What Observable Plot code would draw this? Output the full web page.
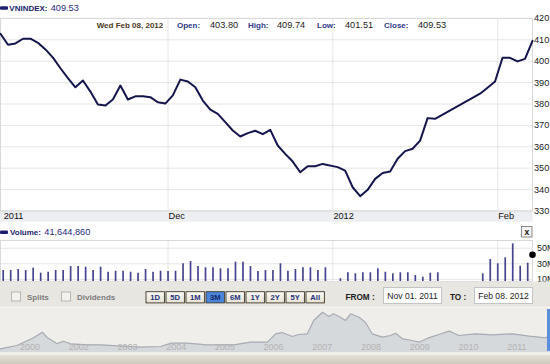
<!DOCTYPE html>
<html><head><meta charset="utf-8">
<script src="https://cdn.jsdelivr.net/npm/d3@7"></script>
<script src="https://cdn.jsdelivr.net/npm/@observablehq/plot@0.6"></script>
<style>
body{margin:0;background:#fff;}
#root{position:relative;width:550px;height:364px;overflow:hidden;background:#fff;font-family:"Liberation Sans",Arial,sans-serif;}
#root svg{position:absolute;left:0;overflow:visible;background:transparent;}
</style></head><body><div id="root"></div>
<script>
// ---- data ----
const dates = ["2011-11-01","2011-11-02","2011-11-03","2011-11-04","2011-11-07","2011-11-08","2011-11-09","2011-11-10","2011-11-11","2011-11-14","2011-11-15","2011-11-16","2011-11-17","2011-11-18","2011-11-21","2011-11-22","2011-11-23","2011-11-24","2011-11-25","2011-11-28","2011-11-29","2011-11-30",
"2011-12-01","2011-12-02","2011-12-05","2011-12-06","2011-12-07","2011-12-08","2011-12-09","2011-12-12","2011-12-13","2011-12-14","2011-12-15","2011-12-16","2011-12-19","2011-12-20","2011-12-21","2011-12-22","2011-12-23","2011-12-26","2011-12-27","2011-12-28","2011-12-29","2011-12-30",
"2012-01-03","2012-01-04","2012-01-05","2012-01-06","2012-01-09","2012-01-10","2012-01-11","2012-01-12","2012-01-13","2012-01-16","2012-01-17","2012-01-18","2012-01-19","2012-01-20","2012-01-30","2012-01-31",
"2012-02-01","2012-02-02","2012-02-03","2012-02-06","2012-02-07","2012-02-08"];
const closes = [412.8,407.7,408.3,410.5,410.5,408.6,405.5,401.7,396.7,392.1,387.8,391.0,385.8,379.8,379.3,382.1,388.6,382.1,383.6,383.6,383.2,380.8,
380.2,384.0,391.4,390.5,387.8,381.6,377.4,375.4,371.5,367.6,364.8,366.4,367.5,365.9,367.9,360.6,356.7,353.1,348.1,350.9,350.9,352.0,
350.5,348.9,341.1,336.9,339.9,345.0,347.8,348.5,354.4,358.0,359.1,362.9,373.4,373.1,384.8,387.6,
390.5,401.6,401.6,399.9,401.1,409.53];
const volumesM = [21.4,21.4,22.7,21.4,24.4,18.0,19.2,21.4,21.4,26.5,26.5,25.6,21.4,25.6,19.2,20.5,20.5,19.2,18.0,22.7,19.2,20.5,
20.1,20.5,30.0,32.9,26.5,24.9,24.9,23.6,23.6,32.1,32.1,26.5,20.1,21.4,21.4,30.0,20.5,22.7,24.9,24.9,21.4,24.9,
10.8,18.5,17.2,18.5,18.5,23.6,19.2,17.2,18.5,18.5,15.0,12.8,18.0,18.5,17.2,35.5,
30.0,37.7,55.6,26.9,30.8,41.64486];
const priceTicks = [330,340,350,360,370,380,390,400,410,420];
const volumeTicks = [10,30,50];
const monthTickDates = ["2011-11-01","2011-12-01","2012-01-01","2012-02-01"];
const monthTickLabels = ["2011","Dec","2012","Feb"];
const navYears = [2000.60,2000.94,2001.28,2001.46,2001.56,2001.76,2001.89,2002.04,2002.38,2002.65,2003.00,2003.47,2003.89,2004.09,2004.43,2004.84,2005.39,2005.73,2006.08,2006.25,2006.38,2006.59,2006.72,2006.90,2007.03,2007.21,2007.34,2007.44,2007.58,2007.68,2007.79,2007.96,2008.09,2008.23,2008.44,2008.61,2008.71,2008.85,2009.05,2009.19,2009.39,2009.60,2009.81,2010.01,2010.35,2010.70,2011.11,2011.45,2011.79,2011.89];
const navValues = [107,203,427,590,436,253,328,253,224,224,195,154,174,270,270,224,224,300,300,543,580,465,523,543,930,1171,1046,1125,1026,930,1125,1026,880,543,445,494,561,398,349,300,427,523,620,494,543,514,543,474,427,494];
const navTickYears = [2001,2002,2003,2004,2005,2006,2007,2008,2009,2010,2011];
const navTickLabels = ["2000","2002","2003","2004","2005","2006","2007","2008","2009","2010","2011"];
const rangeButtons = ["1D","5D","1M","3M","6M","1Y","2Y","5Y","All"];
const activeButton = "3M";

// ---- helpers ----
const startDay = new Date(Date.UTC(2011,10,1));
function tradingIndex(s){
  const d = new Date(s+"T00:00:00Z"); let n = 0;
  for (let t = new Date(startDay); t < d; t.setUTCDate(t.getUTCDate()+1)) { const w = t.getUTCDay(); if (w!==0 && w!==6) n++; }
  return n;
}
const rows = dates.map((s,i)=>({i:tradingIndex(s), close:closes[i], vol:volumesM[i]}));
const monthIdx = monthTickDates.map(tradingIndex);
const xDomain = [0, tradingIndex(dates[dates.length-1])];
const FONT = "'Liberation Sans', Arial, sans-serif";
const root = document.getElementById("root");
const GRID = "#e6e6e6";

// ---- background layer ----
const bg = d3.create("svg").attr("width",550).attr("height",364).style("top","0px");
bg.append("rect").attr("x",0).attr("y",210.5).attr("width",532.5).attr("height",11.2).attr("fill","#eceef2");
bg.append("rect").attr("x",0).attr("y",307).attr("width",550).attr("height",48).attr("fill","#efeeea");
const grad = bg.append("defs").append("linearGradient").attr("id","sb").attr("x1",0).attr("x2",0).attr("y1",0).attr("y2",1);
grad.append("stop").attr("offset",0).attr("stop-color","#e3e0d8");
grad.append("stop").attr("offset",1).attr("stop-color","#cfcabe");
bg.append("rect").attr("x",0).attr("y",355).attr("width",550).attr("height",9).attr("fill","url(#sb)");
root.appendChild(bg.node());

// ---- price chart ----
const price = Plot.plot({
  width:550, height:222, marginTop:17.9, marginBottom:11.5, marginLeft:0, marginRight:18,
  style:{fontFamily:FONT, fontSize:"9.2px", background:"transparent", overflow:"visible"},
  x:{domain:xDomain}, y:{domain:[330,420]},
  marks:[
    Plot.gridY(priceTicks,{stroke:GRID, strokeOpacity:1}),
    Plot.ruleX(monthIdx.slice(1),{stroke:GRID, dx:2.7}),
    Plot.frame({stroke:"#d9d9d9"}),
    Plot.line(rows,{x:"i", y:"close", stroke:"#15154d", strokeWidth:2, strokeLinejoin:"round"}),
    Plot.axisY(priceTicks,{anchor:"right", tickSize:0, tickPadding:1.5, fill:"#222", label:null}),
    Plot.axisX(monthIdx,{anchor:"bottom", tickSize:0, tickPadding:1.2, textAnchor:"start", dx:3.2, fill:"#111", label:null, tickFormat:(d,i)=>monthTickLabels[i]})
  ]
});
price.style.top = "0px";
root.appendChild(price);

// ---- volume chart ----
const volRows = rows.slice(0,-1), lastRow = rows.slice(-1);
const vol = Plot.plot({
  width:550, height:41, marginTop:0, marginBottom:0, marginLeft:0, marginRight:18,
  style:{fontFamily:FONT, fontSize:"9px", background:"transparent", overflow:"visible"},
  x:{domain:xDomain, axis:null}, y:{domain:[7.3,59.9]},
  marks:[
    Plot.gridY(volumeTicks,{stroke:GRID, strokeOpacity:1}),
    Plot.ruleX(monthIdx.slice(1),{stroke:GRID, dx:2.7}),
    Plot.frame({stroke:"#d9d9d9"}),
    Plot.ruleX(volRows,{x:"i", y1:0, y2:"vol", stroke:"#45458f", strokeWidth:1.7, dx:2.7, clip:true}),
    Plot.dot(lastRow,{x:"i", y:"vol", r:3.3, fill:"#000"}),
    Plot.axisY(volumeTicks,{anchor:"right", tickSize:0, tickPadding:4.5, fill:"#222", label:null, tickFormat:d=>d+"M"})
  ]
});
vol.style.top = "240px";
root.appendChild(vol);

// ---- navigator ----
const navRows = navYears.map((t,i)=>({t, v:navValues[i]}));
const nav = Plot.plot({
  width:550, height:45, margin:0,
  style:{fontFamily:FONT, fontSize:"9px", background:"transparent", overflow:"visible"},
  x:{domain:[2000.6,2011.89], axis:null}, y:{domain:[0,1308], axis:null},
  marks:[
    Plot.areaY(navRows,{x:"t", y:"v", fill:"#d6d9dc"}),
    Plot.lineY(navRows,{x:"t", y:"v", stroke:"#a9acb3", strokeWidth:1.2}),
    Plot.text(navTickYears,{x:d=>d, text:(d,i)=>navTickLabels[i], frameAnchor:"bottom", dy:-5.3, lineAnchor:"middle", textAnchor:"start", fill:"#b3b3b3"})
  ]
});
nav.style.top = "307px";
root.appendChild(nav);

// ---- foreground layer ----
const fg = d3.create("svg").attr("width",550).attr("height",364).style("top","0px").style("font-family",FONT);
function txt(x,y,s,opts={}){
  return fg.append("text").attr("x",x).attr("y",y).text(s)
    .attr("font-size",opts.size||9.2).attr("font-weight",opts.bold?"bold":"normal")
    .attr("fill",opts.fill||"#222").attr("text-anchor",opts.anchor||"start");
}
const NAVY = "#1d1d6e", LBL = "#2f3a86";
// header
fg.append("rect").attr("x",0).attr("y",6.3).attr("width",8).attr("height",3.4).attr("rx",1).attr("fill",NAVY);
txt(9.3,10.5,"VNINDEX:",{bold:true,size:8,fill:NAVY});
txt(50.7,10.5,"409.53",{fill:"#2a2a7c"});
// info row
txt(96.7,28,"Wed Feb 08, 2012",{bold:true,size:8,fill:"#4b3a1c"});
txt(177,28,"Open:",{bold:true,size:8,fill:LBL});
txt(210,28,"403.80");
txt(248,28,"High:",{bold:true,size:8,fill:LBL});
txt(277,28,"409.74");
txt(317,28,"Low:",{bold:true,size:8,fill:LBL});
txt(345,28,"401.51");
txt(384,28,"Close:",{bold:true,size:8,fill:LBL});
txt(418,28,"409.53");
// volume header
fg.append("rect").attr("x",0).attr("y",230.6).attr("width",8).attr("height",3.4).attr("rx",1).attr("fill",NAVY);
txt(10,234.8,"Volume:",{bold:true,size:8,fill:NAVY});
txt(44.3,234.8,"41,644,860",{fill:"#2a2a7c"});
fg.append("rect").attr("x",521.5).attr("y",226.5).attr("width",10.5).attr("height",10.5).attr("fill","#f3f3f3").attr("stroke","#8a8a8a");
txt(526.8,234.6,"x",{bold:true,size:8.5,fill:"#111",anchor:"middle"});
// controls bar
fg.append("rect").attr("x",0).attr("y",281.5).attr("width",550).attr("height",25.5).attr("fill","#e8e6e0");
fg.append("line").attr("x1",0).attr("x2",550).attr("y1",307).attr("y2",307).attr("stroke","#f6f5f2");
[[11,"Splits",27],[61,"Dividends",77]].forEach(([bx,s,tx])=>{
  fg.append("rect").attr("x",bx+0.5).attr("y",292).attr("width",9).attr("height",9).attr("fill","#f3f2ee").attr("stroke","#b8b6b0");
  txt(tx,299.5,s,{bold:true,size:8,fill:"#7c7c7c"});
});
const bgrad = fg.append("defs").append("linearGradient").attr("id","bt").attr("x1",0).attr("x2",0).attr("y1",0).attr("y2",1);
bgrad.append("stop").attr("offset",0).attr("stop-color","#fbfaf5");
bgrad.append("stop").attr("offset",1).attr("stop-color","#e6e2d3");
rangeButtons.forEach((b,i)=>{
  const x = 146 + i*20;
  const on = b===activeButton;
  fg.append("rect").attr("x",x).attr("y",291.7).attr("width",18.4).attr("height",11.2)
    .attr("fill",on?"#4a86dc":"url(#bt)").attr("stroke","#3d3628").attr("stroke-width",0.9);
  txt(x+9.2,300.3,b,{bold:true,size:7.6,fill:on?"#1a2766":"#23307a",anchor:"middle"});
});
txt(345.5,299.8,"FROM :",{bold:true,size:8.2,fill:"#1a1a1a"});
fg.append("rect").attr("x",383.5).attr("y",287.5).attr("width",58).attr("height",16).attr("fill","#fff").attr("stroke","#c4c4c4");
txt(412.5,299,"Nov 01. 2011",{size:8.6,fill:"#222",anchor:"middle"});
txt(450,299.8,"TO :",{bold:true,size:8.2,fill:"#1a1a1a"});
fg.append("rect").attr("x",474.5).attr("y",287.5).attr("width",58).attr("height",16).attr("fill","#fff").attr("stroke","#c4c4c4");
txt(503.5,299,"Feb 08. 2012",{size:8.6,fill:"#222",anchor:"middle"});
// navigator handle
fg.append("rect").attr("x",547).attr("y",309).attr("width",3).attr("height",42).attr("fill","#5b8fdc");
root.appendChild(fg.node());
</script></body></html>
